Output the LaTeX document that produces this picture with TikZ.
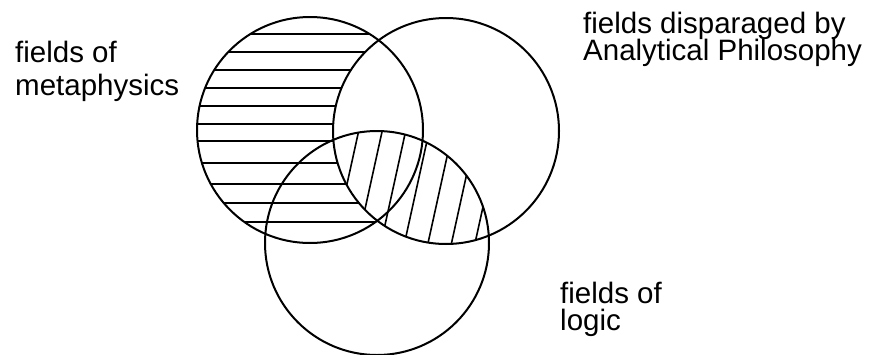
\documentclass[tikz,border=0pt]{standalone}
\usepackage{fontspec}
\setmainfont{Liberation Sans}
\begin{document}
\begin{tikzpicture}[x=1pt,y=-1pt,
  ring/.style={line width=2pt},
  hatch/.style={line width=1.6pt},
  lbl/.style={anchor=base west, inner sep=0pt, font=\fontsize{29.5}{34}\selectfont}]
\useasboundingbox (0,0) rectangle (873,354);
\coordinate (cA) at (310,130);
\coordinate (cB) at (446,131);
\coordinate (cC) at (377,243);
% horizontal hatching: metaphysics outside the disparaged fields
\begin{scope}
  \clip (cA) circle (113pt);
  \begin{scope}[even odd rule]
    \clip (cB) circle (113pt) (0,0) rectangle (873,354);
    \foreach \y in {34,52,70,88,106,124,141,163,184,203,222}
      \draw[hatch] (180,\y) -- (460,\y);
  \end{scope}
\end{scope}
% slanted hatching: disparaged fields within logic
\begin{scope}
  \clip (cB) circle (113pt);
  \clip (cC) circle (112pt);
  \foreach \x in {343.5,367,390.5,414,437.5,461,484.5}
    \draw[hatch] (\x+22,100) -- (\x-22,300);
\end{scope}
% circles
\draw[ring] (cA) circle (113pt);
\draw[ring] (cB) circle (113pt);
\draw[ring] (cC) circle (112pt);
% labels
\node[lbl] (mA) at (15,62) {fields of};
\node[lbl] (mB) at (15,95) {metaphysics};
\node[lbl] (dA) at (583,33) {fields disparaged by};
\node[lbl] (dB) at (583,60) {Analytical Philosophy};
\node[lbl] (lA) at (560,303) {fields of};
\node[lbl] (lB) at (560,330) {logic};
\end{tikzpicture}
\end{document}
